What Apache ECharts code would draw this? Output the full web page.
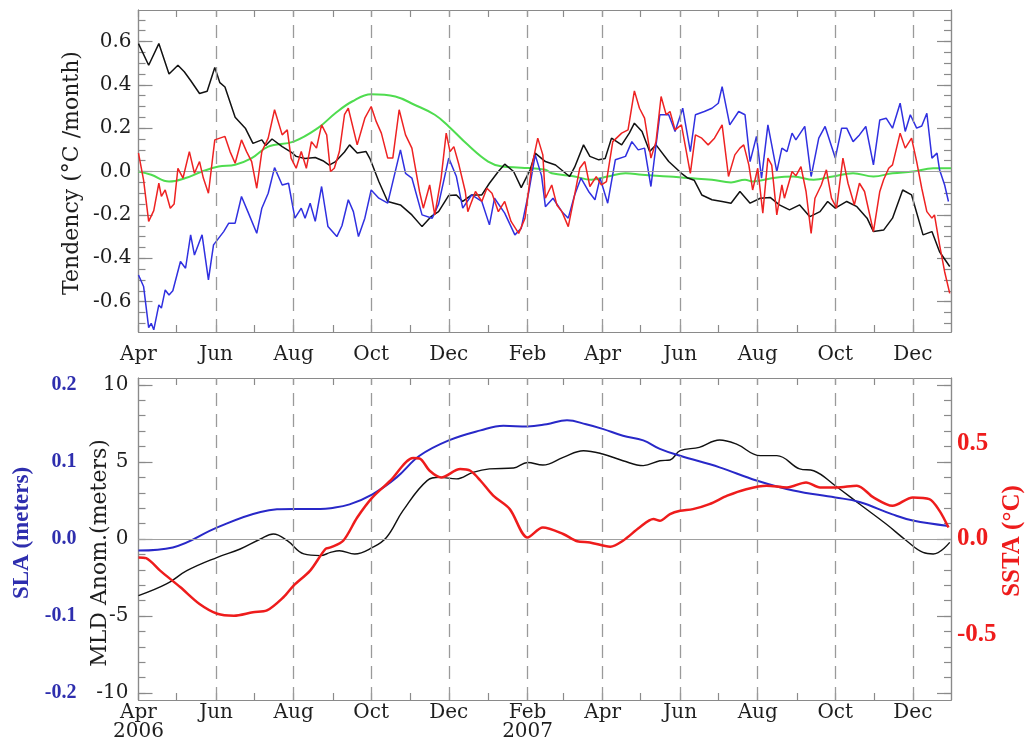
<!DOCTYPE html>
<html><head><meta charset="utf-8">
<script src="https://cdn.jsdelivr.net/npm/echarts@6/dist/echarts.min.js"></script>
<style>html,body{margin:0;padding:0;background:#fff}#c{width:1028px;height:751px}</style>
</head><body><div id="c"></div>
<script>
// x values are days since 1 Apr 2006
const monthStarts = [0,30,61,91,122,153,183,214,244,275,306,334,365,395,426,456,487,518,548,579,609];
const labelDays = [0,61,122,183,244,306,365,426,487,548,609];
const labelNames = ['Apr','Jun','Aug','Oct','Dec','Feb','Apr','Jun','Aug','Oct','Dec'];
const yearDays = [0,306];
const yearNames = ['2006','2007'];
const tendTicks = [-0.6,-0.4,-0.2,0,0.2,0.4,0.6];
const mldTicks = [-10,-5,0,5,10];
const slaTicks = [-0.2,-0.1,0,0.1,0.2];
const sstaTicks = [-0.5,0,0.5];

// Top panel: tendency (°C / month)
const tendBlack = [[0,0.59],[8,0.49],[16,0.59],[24,0.45],[31,0.49],[36,0.46],[41,0.42],[48,0.36],[54,0.37],[60,0.48],[64,0.41],[68,0.39],[76,0.25],[84,0.2],[90,0.13],[97,0.146],[100,0.12],[105,0.15],[113,0.115],[120,0.09],[124,0.07],[131,0.06],[139,0.065],[145,0.05],[150,0.03],[155,0.046],[162,0.09],[166,0.123],[172,0.085],[179,0.092],[182,0.06],[189,-0.046],[196,-0.138],[206,-0.154],[215,-0.2],[223,-0.254],[230,-0.208],[236,-0.185],[244,-0.11],[250,-0.108],[255,-0.138],[262,-0.108],[270,-0.108],[276,-0.054],[283,0],[288,0.034],[295,0],[301,-0.074],[308,0.008],[312,0.085],[320,0.046],[328,0.03],[339,-0.023],[343,0.02],[350,0.123],[355,0.07],[362,0.054],[367,0.06],[372,0.154],[380,0.123],[386,0.177],[390,0.223],[396,0.185],[402,0.092],[407,0.123],[417,0.046],[427,-0.008],[432,-0.03],[437,-0.04],[443,-0.108],[451,-0.13],[459,-0.138],[466,-0.146],[473,-0.092],[481,-0.146],[489,-0.123],[497,-0.12],[504,-0.154],[512,-0.177],[520,-0.154],[528,-0.208],[536,-0.185],[542,-0.138],[548,-0.169],[557,-0.138],[565,-0.162],[573,-0.215],[578,-0.277],[586,-0.27],[593,-0.215],[601,-0.085],[608,-0.108],[617,-0.292],[624,-0.277],[630,-0.37],[638,-0.438]];
const tendBlue = [[0,-0.477],[4,-0.53],[8,-0.72],[10,-0.7],[12,-0.73],[16,-0.615],[18,-0.63],[21,-0.546],[24,-0.569],[27,-0.55],[33,-0.415],[37,-0.446],[41,-0.292],[44,-0.385],[50,-0.292],[55,-0.5],[59,-0.338],[67,-0.277],[71,-0.238],[76,-0.238],[81,-0.115],[86,-0.185],[93,-0.285],[97,-0.169],[102,-0.1],[107,0.018],[113,-0.062],[118,-0.054],[123,-0.215],[128,-0.169],[131,-0.215],[135,-0.146],[139,-0.23],[144,-0.069],[149,-0.254],[156,-0.3],[160,-0.25],[165,-0.13],[169,-0.185],[173,-0.3],[178,-0.215],[183,-0.085],[189,-0.123],[196,-0.146],[206,0.1],[210,-0.008],[215,-0.03],[223,-0.2],[231,-0.215],[236,-0.15],[244,0.062],[250,-0.023],[255,-0.169],[262,-0.108],[270,-0.138],[276,-0.246],[280,-0.123],[288,-0.192],[296,-0.292],[301,-0.262],[307,-0.092],[312,0.077],[317,-0.02],[320,-0.162],[326,-0.123],[333,-0.185],[338,-0.215],[343,-0.108],[348,-0.03],[354,-0.092],[359,-0.13],[363,-0.03],[369,-0.146],[375,0.054],[383,0.07],[388,0.138],[393,0.1],[398,0.108],[403,-0.069],[410,0.262],[417,0.262],[422,0.185],[428,0.292],[434,0.092],[438,0.262],[445,0.277],[451,0.292],[456,0.315],[459,0.392],[465,0.215],[472,0.277],[477,0.262],[481,0.046],[486,0.162],[490,-0.03],[495,0.215],[502,0],[506,0.108],[510,0.092],[514,0.177],[517,0.146],[524,0.208],[529,-0.023],[535,0.154],[540,0.208],[548,0.062],[553,0.2],[557,0.2],[562,0.138],[567,0.169],[572,0.208],[578,0.031],[583,0.238],[588,0.246],[593,0.2],[599,0.315],[603,0.185],[607,0.262],[612,0.2],[616,0.21],[620,0.269],[624,0.062],[628,0.085],[630,0.008],[634,-0.062],[637,-0.138]];
const tendRed = [[0,0.085],[4,-0.04],[8,-0.23],[12,-0.18],[16,-0.054],[18,-0.115],[21,-0.085],[25,-0.169],[28,-0.15],[31,0.015],[35,-0.03],[40,0.092],[44,-0.008],[48,0.046],[51,-0.03],[55,-0.1],[60,0.146],[64,0.154],[68,0.162],[72,0.092],[76,0.038],[81,0.146],[85,0.092],[89,0.046],[93,-0.077],[97,0.092],[102,0.154],[107,0.285],[113,0.169],[117,0.192],[120,0.062],[124,0.015],[128,0.092],[132,0.015],[136,0.138],[140,0.108],[144,0.215],[148,0.169],[151,0],[154,0.015],[158,0.092],[162,0.262],[165,0.292],[172,0.123],[178,0.246],[183,0.3],[187,0.23],[191,0.177],[196,0.062],[200,0.062],[205,0.285],[210,0.169],[215,0.108],[221,-0.092],[224,-0.169],[229,-0.062],[233,-0.2],[238,-0.03],[242,0.177],[245,0.092],[248,0.115],[252,0.031],[257,-0.092],[259,-0.185],[265,-0.092],[270,-0.138],[274,-0.077],[278,-0.1],[283,-0.185],[288,-0.138],[293,-0.23],[299,-0.285],[304,-0.215],[309,0.015],[314,0.154],[318,0.077],[320,-0.123],[325,-0.062],[329,-0.154],[333,-0.185],[338,-0.254],[343,-0.108],[347,0.015],[351,0.046],[355,-0.069],[360,-0.023],[364,-0.062],[368,-0.046],[373,0.138],[380,0.177],[385,0.192],[390,0.372],[394,0.292],[398,0.246],[403,0.062],[407,0.138],[411,0.346],[415,0.262],[418,0.277],[422,0.192],[427,0.215],[434,-0.008],[438,0.169],[443,0.154],[448,0.123],[453,0.154],[459,0.215],[464,-0.023],[469,0.077],[473,0.108],[476,0.123],[480,0.031],[483,-0.085],[487,0.015],[491,-0.192],[495,0.062],[498,0.03],[502,-0.2],[506,-0.062],[508,-0.123],[514,0],[517,-0.02],[521,0.023],[525,-0.092],[529,-0.285],[532,-0.123],[537,-0.062],[541,0.008],[545,-0.123],[549,-0.169],[552,-0.03],[554,0.062],[558,-0.054],[563,-0.154],[567,-0.054],[571,-0.092],[578,-0.277],[583,-0.092],[586,-0.038],[590,0.015],[593,0.031],[599,0.177],[603,0.108],[608,0.154],[612,0.046],[616,-0.077],[620,-0.185],[624,-0.215],[626,-0.2],[630,-0.338],[634,-0.462],[638,-0.562]];
const tendGreen = [[0,0],[10,-0.015],[24,-0.046],[37,-0.03],[50,0],[63,0.023],[76,0.031],[89,0.062],[102,0.115],[122,0.138],[141,0.2],[155,0.27],[168,0.323],[183,0.357],[202,0.346],[217,0.308],[233,0.262],[244,0.208],[259,0.123],[275,0.046],[286,0.023],[301,0.018],[320,0.008],[325,-0.008],[343,-0.023],[356,-0.038],[369,-0.023],[383,-0.008],[396,-0.015],[417,-0.023],[432,-0.03],[451,-0.038],[466,-0.05],[477,-0.038],[483,-0.046],[499,-0.03],[515,-0.023],[531,-0.038],[546,-0.023],[562,-0.008],[578,-0.023],[593,-0.008],[609,0],[625,0.015],[639,0.015]];

// Bottom panel
const mld = [[0,-3.68],[22,-2.92],[38,-2.06],[62,-1.19],[80,-0.65],[96,0],[106,0.32],[117,-0.11],[130,-0.97],[143,-1.08],[151,-0.87],[158,-0.76],[170,-0.97],[184,-0.55],[195,0.1],[208,1.84],[227,3.79],[237,4.0],[250,3.9],[263,4.32],[276,4.55],[295,4.61],[306,4.97],[318,4.8],[334,5.3],[350,5.73],[365,5.52],[381,5.08],[397,4.76],[410,5.08],[418,5.13],[426,5.73],[441,5.95],[457,6.43],[470,6.17],[489,5.41],[502,5.41],[520,4.55],[531,4.43],[548,3.46],[567,2.27],[588,0.97],[604,-0.11],[617,-0.87],[625,-0.97],[638,-0.22]];
const sla = [[0,-0.015],[27,-0.011],[62,0.015],[96,0.035],[122,0.039],[143,0.039],[151,0.04],[166,0.045],[184,0.058],[203,0.08],[221,0.108],[244,0.128],[269,0.141],[287,0.147],[306,0.146],[321,0.149],[337,0.154],[352,0.149],[365,0.143],[381,0.134],[397,0.128],[410,0.117],[426,0.108],[457,0.093],[486,0.076],[515,0.063],[548,0.054],[567,0.048],[593,0.032],[609,0.024],[637,0.017]];
const ssta = [[0,-0.096],[6,-0.1],[17,-0.165],[33,-0.252],[48,-0.339],[62,-0.39],[75,-0.4],[90,-0.382],[101,-0.373],[114,-0.304],[122,-0.243],[135,-0.165],[147,-0.052],[151,-0.044],[161,-0.009],[172,0.112],[184,0.217],[198,0.304],[216,0.422],[221,0.42],[229,0.356],[238,0.321],[253,0.365],[261,0.356],[269,0.304],[279,0.226],[292,0.156],[306,0.008],[318,0.06],[334,0.026],[345,-0.012],[355,-0.018],[371,-0.04],[381,-0.009],[394,0.06],[405,0.104],[410,0.095],[418,0.13],[426,0.147],[436,0.156],[449,0.182],[463,0.226],[478,0.26],[494,0.278],[510,0.269],[525,0.295],[536,0.269],[549,0.269],[565,0.278],[578,0.217],[593,0.173],[609,0.217],[622,0.208],[630,0.147],[637,0.06]];

function steps(a, b, s){ const r=[]; for(let v=a; v<=b+1e-9; v+=s) r.push(Math.round(v*1000)/1000); return r; }
const tendMinor = steps(-0.7, 0.7, 0.05);
const mldMinor = steps(-10, 10, 1);

const SERIF = 'DejaVu Serif';
const AX = '#8a8a8a';
const TXT = '#1e1e1e';
const X0 = 0, X1 = 639;
const T0 = -0.74, T1 = 0.745;
const M0 = -10.45, M1 = 10.45;

function monthLabel(v){ const i = labelDays.indexOf(Math.round(v)); return i<0 ? '' : labelNames[i]; }
function monthYearLabel(v){ const d=Math.round(v); const i = labelDays.indexOf(d); if(i<0) return ''; const j = yearDays.indexOf(d); return j<0 ? labelNames[i] : labelNames[i]+'\n'+yearNames[j]; }

function xAx(grid, pos, labels){
  return {type:'value', gridIndex:grid, position:pos, min:X0, max:X1,
    axisLine:{show:true, onZero:false, lineStyle:{color:AX, width:1.2}},
    axisTick:{show:true, inside:true, length:7, customValues:monthStarts, lineStyle:{color:AX, width:1.2}},
    axisLabel: labels ? Object.assign({show:true, customValues:labelDays, fontFamily:SERIF, fontSize:20, color:TXT}, labels) : {show:false},
    splitLine:{show:false}};
}
function yAx(grid, pos, min, max, ticks, len, labels, line){
  return {type:'value', gridIndex:grid, position:pos, min:min, max:max, offset:0,
    axisLine:{show:line!==false, onZero:false, lineStyle:{color:AX, width:1.2}},
    axisTick: ticks ? {show:true, inside:true, length:len, customValues:ticks, lineStyle:{color:AX, width:1.2}} : {show:false},
    axisLabel: labels ? Object.assign({show:true, fontFamily:SERIF, fontSize:20, color:TXT}, labels) : {show:false},
    splitLine:{show:false}};
}

const dashLines = labelDays.slice(1).map(d => ({xAxis:d}));
const guideStyle = {type:[13,8], color:'#9a9a9a', width:1.3};

const option = {
  animation:false,
  backgroundColor:'#fff',
  grid:[
    {left:138.5, top:10, width:812.5, height:322, outerBoundsMode:'none'},
    {left:138.5, top:378, width:812.5, height:322, outerBoundsMode:'none'}
  ],
  xAxis:[
    xAx(0,'bottom',{formatter:monthLabel, margin:13}),
    xAx(0,'top',null),
    xAx(1,'bottom',{formatter:monthYearLabel, margin:3, lineHeight:19, verticalAlign:'top'}),
    xAx(1,'top',null)
  ],
  yAxis:[
    yAx(0,'left',T0,T1,tendTicks,14,{customValues:tendTicks, formatter:v=>v.toFixed(1), margin:7}),
    yAx(0,'left',T0,T1,tendMinor,7,null),
    yAx(0,'right',T0,T1,tendTicks,14,null),
    yAx(0,'right',T0,T1,tendMinor,7,null),
    yAx(1,'left',M0,M1,mldTicks,14,{customValues:mldTicks, formatter:v=>String(v), margin:10}),
    yAx(1,'left',M0,M1,mldMinor,7,null),
    yAx(1,'right',M0,M1,mldTicks,14,null),
    yAx(1,'right',M0,M1,mldMinor,7,null),
    yAx(1,'left',M0/50,M1/50,null,0,{customValues:slaTicks, formatter:v=>v.toFixed(1), margin:62, fontFamily:'Liberation Serif', fontWeight:'bold', fontSize:20, color:'#2e2eae'}, false),
    yAx(1,'right',-0.84,0.84,null,0,{customValues:sstaTicks, formatter:v=>v.toFixed(1), margin:6, fontFamily:'Liberation Serif', fontWeight:'bold', fontSize:25, color:'#ee1c1c'}, false)
  ],
  graphic:[
    {type:'text', x:72, y:173, rotation:Math.PI/2, style:{text:'Tendency (°C /month)', font:'22px "DejaVu Serif"', fill:TXT, textAlign:'center', textVerticalAlign:'middle'}},
    {type:'text', x:100, y:553, rotation:Math.PI/2, style:{text:'MLD Anom.(meters)', font:'22px "DejaVu Serif"', fill:TXT, textAlign:'center', textVerticalAlign:'middle'}},
    {type:'text', x:22, y:533, rotation:Math.PI/2, style:{text:'SLA (meters)', font:'bold 23px "Liberation Serif"', fill:'#2e2eae', textAlign:'center', textVerticalAlign:'middle'}},
    {type:'text', x:1013, y:541, rotation:Math.PI/2, style:{text:'SSTA (°C)', font:'bold 25px "Liberation Serif"', fill:'#ee1c1c', textAlign:'center', textVerticalAlign:'middle'}}
  ],
  series:[
    {type:'line', xAxisIndex:0, yAxisIndex:0, data:[[0,0]], showSymbol:false, lineStyle:{opacity:0}, z:1, silent:true,
      markLine:{silent:true, symbol:['none','none'], label:{show:false}, lineStyle:guideStyle,
        data: dashLines.concat([{yAxis:0, lineStyle:{type:'solid', color:'#a0a0a0', width:1}}])}},
    {type:'line', xAxisIndex:2, yAxisIndex:4, data:[[0,0]], showSymbol:false, lineStyle:{opacity:0}, z:1, silent:true,
      markLine:{silent:true, symbol:['none','none'], label:{show:false}, lineStyle:guideStyle,
        data: dashLines.concat([{yAxis:0, lineStyle:{type:'solid', color:'#a0a0a0', width:1}}])}},
    {type:'line', name:'green', xAxisIndex:0, yAxisIndex:0, data:tendGreen, showSymbol:false, smooth:0.4, lineStyle:{color:'#4fdc4f', width:2}, z:2},
    {type:'line', name:'black', xAxisIndex:0, yAxisIndex:0, data:tendBlack, showSymbol:false, lineStyle:{color:'#111', width:1.5}, z:3},
    {type:'line', name:'blue', xAxisIndex:0, yAxisIndex:0, data:tendBlue, showSymbol:false, lineStyle:{color:'#3030e0', width:1.5}, z:4},
    {type:'line', name:'red', xAxisIndex:0, yAxisIndex:0, data:tendRed, showSymbol:false, lineStyle:{color:'#ee2222', width:1.5}, z:5},
    {type:'line', name:'MLD', xAxisIndex:2, yAxisIndex:4, data:mld, showSymbol:false, smooth:0.4, lineStyle:{color:'#111', width:1.4}, z:3},
    {type:'line', name:'SLA', xAxisIndex:2, yAxisIndex:8, data:sla, showSymbol:false, smooth:0.4, lineStyle:{color:'#2828c8', width:2}, z:4},
    {type:'line', name:'SSTA', xAxisIndex:2, yAxisIndex:9, data:ssta, showSymbol:false, smooth:0.3, lineStyle:{color:'#ee1c1c', width:2.5}, z:5}
  ]
};
const chart = echarts.init(document.getElementById('c'), null, {renderer:'canvas'});
chart.setOption(option);
</script>
</body></html>
